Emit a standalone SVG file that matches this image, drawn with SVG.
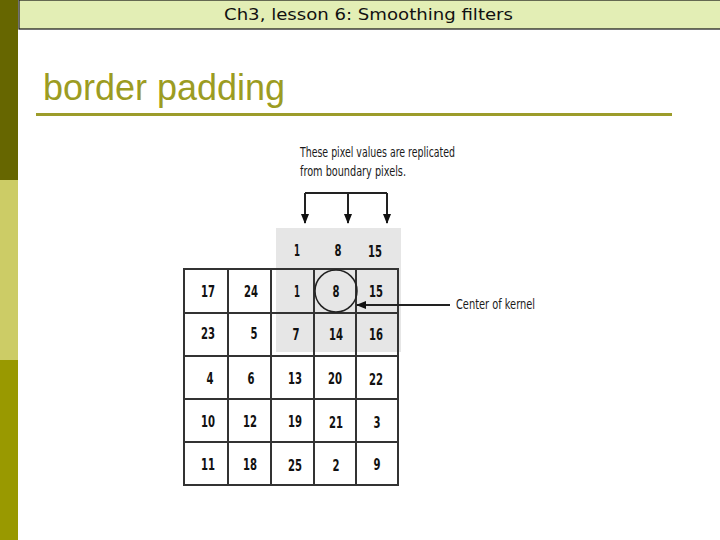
<svg xmlns="http://www.w3.org/2000/svg" width="720" height="540" viewBox="0 0 720 540">
<defs>
<style>
.num{font-family:"DejaVu Sans Condensed","DejaVu Sans","Liberation Sans",sans-serif;font-size:15px;font-weight:bold;fill:#111;text-anchor:middle}
.note{font-family:"DejaVu Sans Condensed","DejaVu Sans","Liberation Sans",sans-serif;font-size:14px;fill:#1a1a1a}
.grid{stroke:#333;stroke-width:2;fill:none}
.conn{stroke:#222;stroke-width:2;fill:none}
</style>
<marker id="ah" markerWidth="10" markerHeight="10" refX="9" refY="5" orient="auto" markerUnits="userSpaceOnUse">
<path d="M0,1 L10,5 L0,9 Z" fill="#111"/>
</marker>
</defs>
<rect width="720" height="540" fill="#ffffff"/>
<g id="sidebar">
<rect x="0" y="0" width="18" height="180" fill="#666600"/>
<rect x="0" y="180" width="18" height="180" fill="#cccc66"/>
<rect x="0" y="360" width="18" height="180" fill="#999900"/>
</g>
<g id="header">
<rect x="19" y="0" width="702" height="29" fill="#e3eeb5" stroke="#111" stroke-width="1.2"/>
<text x="224" y="20" font-family="DejaVu Sans, sans-serif" font-size="16" textLength="289" lengthAdjust="spacingAndGlyphs" fill="#111">Ch3, lesson 6: Smoothing filters</text>
</g>
<g id="title">
<text x="43" y="100" font-family="Liberation Sans, Arial, sans-serif" font-size="36" fill="#9c9c22" textLength="242" lengthAdjust="spacingAndGlyphs">border padding</text>
<rect x="36" y="113" width="636" height="3" fill="#9c9c2a"/>
</g>
<g id="padding-area">
<rect x="276" y="228" width="125" height="124" fill="#e6e6e6"/>
</g>
<g id="grid">
<rect x="184" y="269" width="214" height="216" class="grid"/>
<line x1="228" y1="269" x2="228" y2="485" class="grid"/>
<line x1="271" y1="269" x2="271" y2="485" class="grid"/>
<line x1="314" y1="269" x2="314" y2="485" class="grid"/>
<line x1="356" y1="269" x2="356" y2="485" class="grid"/>
<line x1="184" y1="313" x2="398" y2="313" class="grid"/>
<line x1="184" y1="356" x2="398" y2="356" class="grid"/>
<line x1="184" y1="399" x2="398" y2="399" class="grid"/>
<line x1="184" y1="442" x2="398" y2="442" class="grid"/>
</g>
<g id="kernel-center">
<circle cx="336" cy="291" r="21" fill="none" stroke="#222" stroke-width="1.5"/>
</g>
<g id="numbers">
<text class="num" x="297" y="256" textLength="6" lengthAdjust="spacingAndGlyphs">1</text><text class="num" x="338" y="256" textLength="7" lengthAdjust="spacingAndGlyphs">8</text><text class="num" x="375" y="257" textLength="14" lengthAdjust="spacingAndGlyphs">15</text>
<text class="num" x="208" y="297" textLength="14" lengthAdjust="spacingAndGlyphs">17</text><text class="num" x="251" y="297" textLength="14" lengthAdjust="spacingAndGlyphs">24</text><text class="num" x="297" y="297" textLength="6" lengthAdjust="spacingAndGlyphs">1</text><text class="num" x="336" y="297" textLength="7" lengthAdjust="spacingAndGlyphs">8</text><text class="num" x="376" y="297" textLength="14" lengthAdjust="spacingAndGlyphs">15</text>
<text class="num" x="208" y="339" textLength="14" lengthAdjust="spacingAndGlyphs">23</text><text class="num" x="254" y="339" textLength="7" lengthAdjust="spacingAndGlyphs">5</text><text class="num" x="296" y="340" textLength="7" lengthAdjust="spacingAndGlyphs">7</text><text class="num" x="336" y="340" textLength="14" lengthAdjust="spacingAndGlyphs">14</text><text class="num" x="376" y="340" textLength="14" lengthAdjust="spacingAndGlyphs">16</text>
<text class="num" x="210" y="384" textLength="7" lengthAdjust="spacingAndGlyphs">4</text><text class="num" x="251" y="384" textLength="7" lengthAdjust="spacingAndGlyphs">6</text><text class="num" x="295" y="384" textLength="14" lengthAdjust="spacingAndGlyphs">13</text><text class="num" x="335" y="384" textLength="14" lengthAdjust="spacingAndGlyphs">20</text><text class="num" x="376" y="385" textLength="14" lengthAdjust="spacingAndGlyphs">22</text>
<text class="num" x="208" y="427" textLength="14" lengthAdjust="spacingAndGlyphs">10</text><text class="num" x="250" y="427" textLength="14" lengthAdjust="spacingAndGlyphs">12</text><text class="num" x="295" y="427" textLength="14" lengthAdjust="spacingAndGlyphs">19</text><text class="num" x="336" y="428" textLength="14" lengthAdjust="spacingAndGlyphs">21</text><text class="num" x="377" y="428" textLength="7" lengthAdjust="spacingAndGlyphs">3</text>
<text class="num" x="208" y="470" textLength="14" lengthAdjust="spacingAndGlyphs">11</text><text class="num" x="250" y="470" textLength="14" lengthAdjust="spacingAndGlyphs">18</text><text class="num" x="295" y="471" textLength="14" lengthAdjust="spacingAndGlyphs">25</text><text class="num" x="336" y="471" textLength="7" lengthAdjust="spacingAndGlyphs">2</text><text class="num" x="377" y="470" textLength="7" lengthAdjust="spacingAndGlyphs">9</text>
</g>
<g id="labels">
<text class="note" x="300" y="157" textLength="155" lengthAdjust="spacingAndGlyphs">These pixel values are replicated</text>
<text class="note" x="300" y="176" textLength="106" lengthAdjust="spacingAndGlyphs">from boundary pixels.</text>
<text class="note" x="456" y="309" textLength="79" lengthAdjust="spacingAndGlyphs">Center of kernel</text>
</g>
<g id="connectors">
<path class="conn" d="M305,193 H387"/>
<line class="conn" x1="305" y1="193" x2="305" y2="223" marker-end="url(#ah)"/>
<line class="conn" x1="348" y1="193" x2="348" y2="223" marker-end="url(#ah)"/>
<line class="conn" x1="387" y1="193" x2="387" y2="223" marker-end="url(#ah)"/>
<line class="conn" x1="450" y1="305" x2="357" y2="305" marker-end="url(#ah)"/>
</g>
</svg>
